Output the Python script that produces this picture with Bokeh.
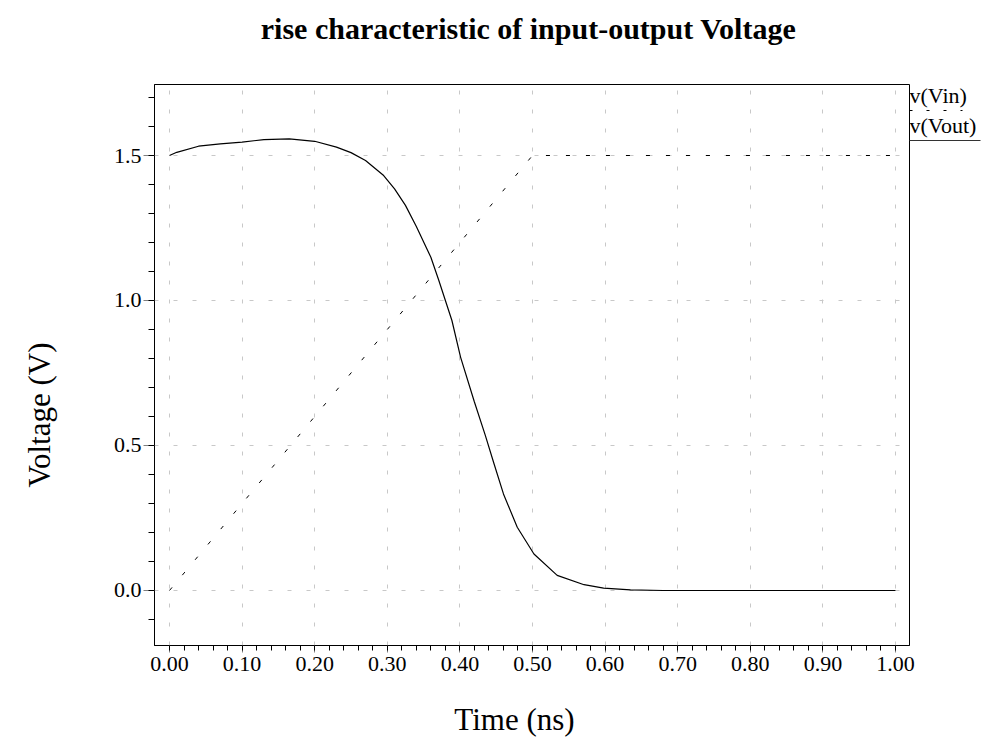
import math
from bokeh.plotting import figure
from bokeh.models import (Range1d, FixedTicker, PrintfTickFormatter, LinearAxis)
from bokeh.embed import file_html
from bokeh.resources import INLINE

# ---- data ----
vin_t = [0.0, 0.5, 1.0]
vin_v = [0.0, 1.5, 1.5]

vout_t = [0.00, 0.01, 0.04, 0.07, 0.10, 0.13, 0.165, 0.20, 0.23, 0.25, 0.27,
          0.295, 0.31, 0.325, 0.34, 0.36, 0.371, 0.389, 0.401, 0.42, 0.435,
          0.447, 0.46, 0.479, 0.502, 0.534, 0.571, 0.598, 0.635, 0.68, 0.80, 1.00]
vout_v = [1.500, 1.511, 1.532, 1.540, 1.546, 1.555, 1.557, 1.549, 1.529, 1.510, 1.483,
          1.431, 1.385, 1.328, 1.255, 1.149, 1.069, 0.931, 0.804, 0.650, 0.535,
          0.437, 0.333, 0.218, 0.126, 0.052, 0.020, 0.008, 0.002, 0.0, 0.0, 0.0]

x_major = [0.0, 0.1, 0.2, 0.3, 0.4, 0.5, 0.6, 0.7, 0.8, 0.9, 1.0]
x_minor = [round(i * 0.02, 2) for i in range(0, 51)]
y_major = [0.0, 0.5, 1.0, 1.5]
y_minor = [round(-0.1 + i * 0.1, 1) for i in range(0, 19)]

title_text = "rise characteristic of input-output Voltage"
xlabel = "Time (ns)"
ylabel = "Voltage (V)"
series_names = ["v(Vin)", "v(Vout)"]

FONT = "Liberation Serif"

# label anchor positions (layout only, in axis units)
TITLE_AT = 0.4945
XLABEL_AT = 0.4752
YLABEL_AT = 0.855
LEG_TEXT_AT = [1.7069, 1.6034]
LEG_LINE_AT = [1.6552, 1.5517]

p = figure(width=983, height=740, output_backend="svg", toolbar_location=None, title=None,
           x_range=Range1d(-0.02066, 1.01928), y_range=Range1d(-0.18966, 1.74483),
           min_border_left=154, min_border_right=74, min_border_top=84, min_border_bottom=95)
p.background_fill_color = "white"
p.border_fill_color = "white"
p.outline_line_color = "black"
p.outline_line_width = 1

# grid
for g in (p.xgrid, p.ygrid):
    g.grid_line_color = "#c8c8c8"
    g.grid_line_dash = "4 15"
    g.grid_line_width = 1

# axes
p.xaxis.ticker = FixedTicker(ticks=x_major, minor_ticks=x_minor)
p.yaxis.ticker = FixedTicker(ticks=y_major, minor_ticks=y_minor)
p.xaxis.formatter = PrintfTickFormatter(format="%.2f")
p.yaxis.formatter = PrintfTickFormatter(format="%.1f")
for ax in (p.xaxis, p.yaxis):
    ax.axis_line_color = "black"
    ax.major_tick_line_color = "#808080"
    ax.minor_tick_line_color = "black"
    ax.major_tick_in = 0
    ax.minor_tick_in = 0
    ax.major_label_text_font = FONT
    ax.major_label_text_font_size = "22px"
    ax.major_label_text_color = "black"
p.xaxis.major_tick_out = 7
p.xaxis.minor_tick_out = 5
p.xaxis.major_label_standoff = 4
p.yaxis.major_tick_out = 11
p.yaxis.minor_tick_out = 6
p.yaxis.major_label_standoff = 2


def text_axis(ticks, labels, size, standoff, minor=(), orientation="horizontal"):
    ax = LinearAxis(ticker=FixedTicker(ticks=list(ticks), minor_ticks=list(minor)),
                    major_label_overrides={t: s for t, s in zip(ticks, labels)},
                    axis_line_color=None, major_tick_line_color=None,
                    major_tick_in=0, major_tick_out=0, minor_tick_in=0, minor_tick_out=0,
                    major_label_standoff=standoff, major_label_orientation=orientation,
                    major_label_text_font=FONT, major_label_text_font_size=size,
                    major_label_text_color="black")
    return ax


# chart title
tl = text_axis([TITLE_AT], [title_text], "30px", 40)
tl.major_label_text_font_style = "bold"
p.add_layout(tl, "above")

# axis titles
xl = text_axis([XLABEL_AT], [xlabel], "31px", 28)
p.add_layout(xl, "below")
yl = text_axis([YLABEL_AT], [ylabel], "31px", 71, orientation=math.pi / 2)
p.add_layout(yl, "left")

# legend: dashed underline sample for v(Vin) (drawn outward, zero extent)
r1 = text_axis([], [], "22px", 0, minor=[LEG_LINE_AT[0]])
r1.minor_tick_in = -53
r1.minor_tick_out = 0
r1.minor_tick_line_color = "black"
r1.minor_tick_line_dash = "3 14"
p.add_layout(r1, "right")
# legend texts and solid underline for v(Vout)
r2 = text_axis(LEG_TEXT_AT, series_names, "22px", 0, minor=[LEG_LINE_AT[1]])
r2.minor_tick_in = -71
r2.minor_tick_out = 0
r2.minor_tick_line_color = "#333333"
p.add_layout(r2, "right")

# series
p.line(vin_t, vin_v, line_color="black", line_width=1, line_dash="4 16")
p.line(vout_t, vout_v, line_color="black", line_width=1.2)

open("out.html", "w").write(file_html(p, INLINE))
